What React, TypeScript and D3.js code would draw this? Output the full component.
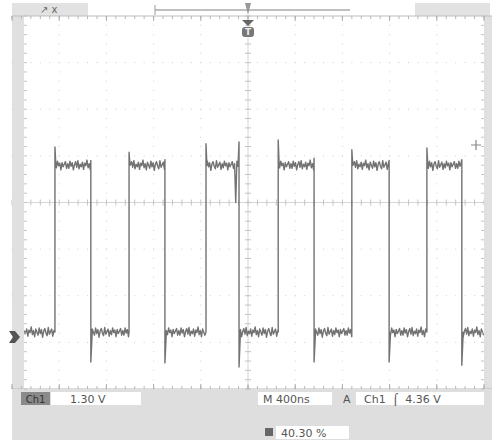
import React from "react";
import * as d3 from "d3";

// ---- data (in screen divisions) ----
const risingEdges = [0.91, 2.48, 4.11, 5.64, 7.2, 8.79];
const fallingEdges = [1.67, 3.24, 4.81, 6.4, 7.99, 9.53];
const risingPeaks = [1.19, 1.08, 1.26, 1.34, 1.13, 1.17];
const fallingPre = [0.9, 0.92, 1.3, 0.95, 0.9, 0.92];
const fallingDips = [-3.42, -3.44, -3.53, -3.42, -3.42, -3.49];
const highLevel = 0.8;
const lowLevel = -2.78;
const glitchTimes = [4.74];
const glitchValues = [0.0];
const noise = [
  0.3, -0.6, 0.8, -0.2, 0.5, -0.9, 0.1, 0.7, -0.4, 0.9, -0.7, 0.2, -0.3, 0.6, -0.8, 0.4,
  -0.1, 1.0, -0.5, 0.3, -0.9, 0.6, 0.0, -0.6, 0.8, -0.3, 0.5, -1.0, 0.2, 0.7, -0.2, -0.7,
  0.9, -0.4, 0.1, 0.6, -0.8, 0.3, -0.5, 0.8, -0.1, 0.4, -0.9, 0.5, -0.3, 0.2, 0.7, -0.6,
];
const noiseAmp = 0.11;

const xDivs = d3.range(0, 11);
const yDivs = d3.range(-4, 5);

const chLabel = "Ch1";
const voltsLabel = "1.30 V";
const timeLabel = "M 400ns";
const trigSrcLabel = "A";
const trigLabel = "Ch1  \u2320  4.36 V";
const posLabel = "40.30 %";

const W = 497;
const H = 440;
const X0 = 12, X1 = 484, Y0 = 16, Y1 = 389;

export default function App() {
  const x = d3.scaleLinear().domain([0, 10]).range([X0, X1]);
  const y = d3.scaleLinear().domain([-4, 4]).range([Y1, Y0]);

  type Ev = { t: number; rising: boolean; i: number };
  const events: Ev[] = [
    ...risingEdges.map((t, i) => ({ t, rising: true, i })),
    ...fallingEdges.map((t, i) => ({ t, rising: false, i })),
  ].sort((a, b) => a.t - b.t);
  const pts: [number, number][] = [];
  let level = lowLevel;
  let prev = 0;
  let k = 0;
  const step = 0.024;
  const flat = (a: number, b: number) => {
    for (let t = a; t < b; t += step) {
      let v = level + noise[k++ % noise.length] * noiseAmp;
      glitchTimes.forEach((gt, gi) => {
        if (Math.abs(t - gt) < step / 2) v = glitchValues[gi];
      });
      pts.push([t, v]);
    }
  };
  events.forEach((e) => {
    flat(prev, e.t);
    if (e.rising) {
      pts.push([e.t, lowLevel]);
      pts.push([e.t, risingPeaks[e.i]]);
      pts.push([e.t + 0.02, highLevel]);
      level = highLevel;
    } else {
      pts.push([e.t, fallingPre[e.i]]);
      pts.push([e.t, fallingDips[e.i]]);
      pts.push([e.t + 0.03, lowLevel]);
      level = lowLevel;
    }
    prev = e.t + 0.03;
  });
  flat(prev, 10);

  const line = d3
    .line<[number, number]>()
    .x((d) => x(d[0]))
    .y((d) => y(d[1]));

  const minorX = d3.range(0, 10.01, 0.2);
  const minorY = d3.range(-4, 4.01, 0.2);

  const font = "DejaVu Sans, sans-serif";
  const textCol = "#555";

  return (
    <svg
      width={W}
      height={H}
      style={{ position: "absolute", left: 0, top: 0, background: "#fff" }}
    >
      <rect x={0} y={0} width={W} height={H} fill="#fff" />
      <rect x={12} y={3} width={76} height={13} fill="#e2e2e2" />
      <text x={40} y={13} fontFamily={font} fontSize={10} fill="#666">
        ↗ x
      </text>
      <rect x={415} y={3} width={75} height={13} fill="#e2e2e2" />

      <line x1={155} x2={350} y1={10} y2={10} stroke="#aaa" strokeWidth={1.5} />
      <line x1={155} x2={155} y1={5} y2={15} stroke="#999" strokeWidth={1} />
      <path d="M245,3 L251,3 L248,15 Z" fill="#999" />

      {xDivs.slice(1, -1).map((d) =>
        minorY.map((m) => (
          <rect key={`vx${d}-${m}`} x={x(d) - 0.5} y={y(m) - 0.5} width={1} height={1} fill="#cfcfcf" />
        ))
      )}
      {yDivs.slice(1, -1).map((d) =>
        minorX.map((m) => (
          <rect key={`hy${d}-${m}`} x={x(m) - 0.5} y={y(d) - 0.5} width={1} height={1} fill="#cfcfcf" />
        ))
      )}
      <line x1={X0} x2={X1} y1={y(0)} y2={y(0)} stroke="#d6d6d6" strokeWidth={1} />
      <line x1={x(5)} x2={x(5)} y1={Y0} y2={Y1} stroke="#d6d6d6" strokeWidth={1} />
      {minorX.map((m) => (
        <line key={`cx${m}`} x1={x(m)} x2={x(m)} y1={y(0) - 3} y2={y(0) + 3} stroke="#c4c4c4" />
      ))}
      {minorY.map((m) => (
        <line key={`cy${m}`} x1={x(5) - 3} x2={x(5) + 3} y1={y(m)} y2={y(m)} stroke="#c4c4c4" />
      ))}

      <path d={line(pts) || ""} fill="none" stroke="#727272" strokeWidth={1.4} strokeLinejoin="round" />

      <rect x={X0} y={Y0} width={12} height={Y1 - Y0} fill="#e0e0e0" />
      <rect x={X1} y={Y0} width={8} height={Y1 - Y0} fill="#e0e0e0" />
      {minorY.map((m) => (
        <g key={`st${m}`}>
          <line x1={X0 + 12} x2={X0 + 15} y1={y(m)} y2={y(m)} stroke="#c4c4c4" />
          <line x1={X1 - 3} x2={X1} y1={y(m)} y2={y(m)} stroke="#c4c4c4" />
        </g>
      ))}
      <line x1={X0} x2={X1 + 8} y1={Y0} y2={Y0} stroke="#bdbdbd" />
      <line x1={X0} x2={X1 + 8} y1={Y1} y2={Y1} stroke="#bdbdbd" />
      {minorX.map((m) => (
        <g key={`bt${m}`}>
          <line x1={x(m)} x2={x(m)} y1={Y0} y2={Y0 + 3} stroke="#b8b8b8" />
          <line x1={x(m)} x2={x(m)} y1={Y1 - 3} y2={Y1} stroke="#b8b8b8" />
        </g>
      ))}
      {xDivs.map((d) => (
        <g key={`bm${d}`}>
          <line x1={x(d)} x2={x(d)} y1={Y0} y2={Y0 + 5} stroke="#aaa" />
          <line x1={x(d)} x2={x(d)} y1={Y1 - 5} y2={Y1} stroke="#aaa" />
        </g>
      ))}

      <path d="M242,20 L254,20 L248,26 Z" fill="#666" />
      <rect x={242} y={27} width={12} height={10} rx={3} fill="#777" />
      <text x={248} y={35} fontFamily={font} fontSize={9} fontWeight="bold" fill="#eee" textAnchor="middle">
        T
      </text>

      <path d={`M9,${y(lowLevel) - 1} L15,${y(lowLevel) - 1} L20,${y(lowLevel) + 5} L15,${y(lowLevel) + 11} L9,${y(lowLevel) + 11} L13,${y(lowLevel) + 5} Z`} fill="#555" />

      <path d="M471,145 L481,145 M476,140 L476,150" stroke="#888" strokeWidth={1.2} />

      <rect x={X0} y={Y1 + 1} width={W - X0 - 5} height={H - Y1 - 1} fill="#dedede" />
      <rect x={21} y={392} width={29} height={13} fill="#8a8a8a" />
      <text x={35.5} y={402.5} fontFamily={font} fontSize={10} fill="#333" textAnchor="middle">
        {chLabel}
      </text>
      <rect x={51} y={392} width={90} height={13} fill="#fff" />
      <text x={70} y={403} fontFamily={font} fontSize={11} fill={textCol}>
        {voltsLabel}
      </text>
      <rect x={258} y={392} width={74} height={13} fill="#fff" />
      <text x={263} y={403} fontFamily={font} fontSize={11} fill={textCol}>
        {timeLabel}
      </text>
      <text x={343} y={403} fontFamily={font} fontSize={11} fill={textCol}>
        {trigSrcLabel}
      </text>
      <rect x={356} y={392} width={128} height={13} fill="#fff" />
      <text x={364} y={403} fontFamily={font} fontSize={11} fill={textCol} style={{ whiteSpace: "pre" }}>
        {trigLabel}
      </text>
      <rect x={265} y={428} width={8} height={8} fill="#666" />
      <rect x={276} y={426} width={73} height={13} fill="#fff" />
      <text x={281} y={437} fontFamily={font} fontSize={11} fill={textCol}>
        {posLabel}
      </text>
    </svg>
  );
}
